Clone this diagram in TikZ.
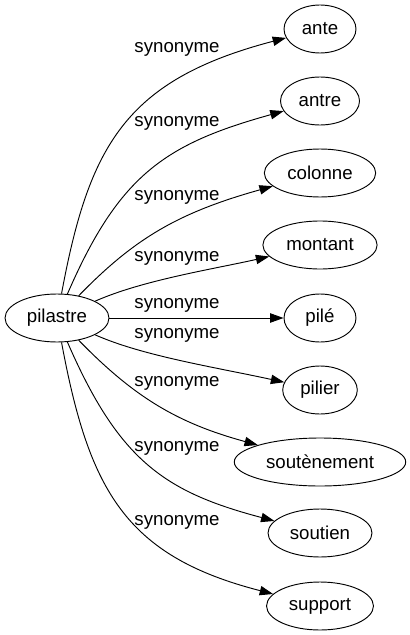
\documentclass[tikz,border=0pt]{standalone}
\usepackage{fontspec}
\setmainfont{Liberation Sans}
\usetikzlibrary{arrows.meta, shapes.geometric}

\begin{document}
\begin{tikzpicture}[->,>={Triangle[length=10pt,width=7pt]},x=0.75pt,y=-0.75pt,line width=0.7pt,
    font=\fontsize{14}{17}\selectfont,
    word/.style={ellipse,draw,minimum width=54pt,minimum height=36pt,inner xsep=5pt,inner ysep=3pt},
    syn/.style={inner sep=1pt}]

    \useasboundingbox (0,0) rectangle (410,635);

    \node[word] (pilastre) at (57,318)  {pilastre};
    \node[word] (ante)     at (320,29)  {ante};
    \node[word] (antre)    at (320,101) {antre};
    \node[word] (colonne)  at (320,173) {colonne};
    \node[word] (montant)  at (320,245) {montant};
    \node[word] (pile)     at (320,318) {pilé};
    \node[word] (pilier)   at (320,390) {pilier};
    \node[word] (soutenement) at (320,462) {soutènement};
    \node[word] (soutien)  at (320,533) {soutien};
    \node[word] (support)  at (320,606) {support};

    \node[syn] (s1) at (177,49)  {synonyme};
    \node[syn] (s2) at (177,123) {synonyme};
    \node[syn] (s3) at (177,197) {synonyme};
    \node[syn] (s4) at (177,258) {synonyme};
    \node[syn] (s5) at (177,305) {synonyme};
    \node[syn] (s6) at (177,335) {synonyme};
    \node[syn] (s7) at (177,383) {synonyme};
    \node[syn] (s8) at (177,448) {synonyme};
    \node[syn] (s9) at (177,522) {synonyme};

    \draw (pilastre) .. controls (89,146) and (125,80) .. (ante);
    \draw (pilastre) .. controls (119,175) and (165,144) .. (antre);
    \draw (pilastre) .. controls (134,239) and (177,213) .. (colonne);
    \draw (pilastre) .. controls (143,280) and (214,269) .. (montant);
    \draw (pilastre) -- (pile);
    \draw (pilastre) .. controls (143,356) and (214,367) .. (pilier);
    \draw (pilastre) .. controls (134,397) and (177,423) .. (soutenement);
    \draw (pilastre) .. controls (119,461) and (165,492) .. (soutien);
    \draw (pilastre) .. controls (89,490) and (125,556) .. (support);
\end{tikzpicture}
\end{document}
